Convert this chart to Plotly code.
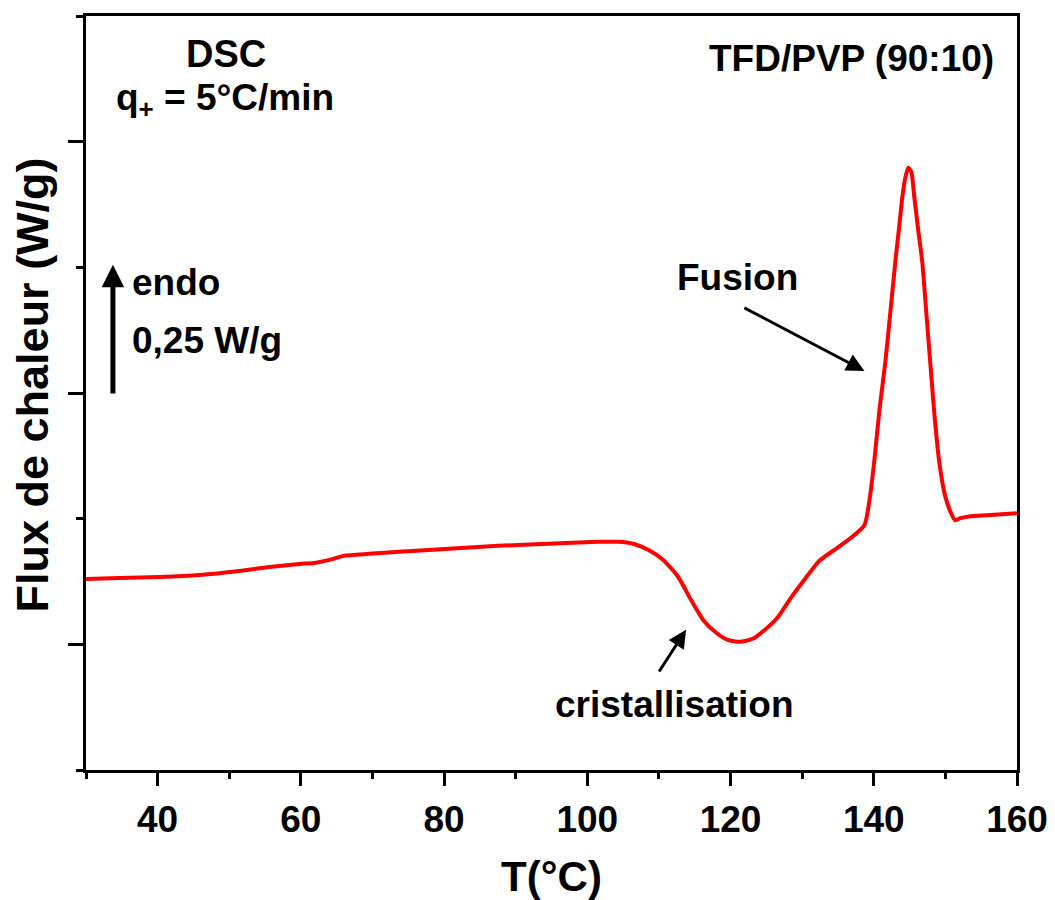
import plotly.graph_objects as go

# Data
temperature = [30.0, 34.7, 40.3, 45.9, 51.4, 55.6, 59.8, 61.9, 64.0, 66.0, 69.5, 73.7,
               80.7, 87.6, 94.6, 101.5, 104.3, 106.4, 108.5, 110.6, 112.7, 114.5, 116.2,
               118.0, 119.6, 121.3, 123.1, 124.8, 126.6, 128.4, 130.5, 132.4, 134.9, 137.0,
               138.70, 139.40, 140.09, 140.79, 141.62, 142.32, 143.01, 143.57, 143.99,
               144.40, 144.82, 145.24, 145.66, 146.21, 146.77, 147.33, 147.88, 148.44,
               149.14, 149.97, 150.67, 151.36, 152.1, 153.5, 155.8, 157.9, 160.0]
heat_flow = [0.380, 0.382, 0.384, 0.388, 0.396, 0.404, 0.410, 0.412, 0.418, 0.426, 0.430, 0.434,
             0.440, 0.446, 0.450, 0.454, 0.454, 0.450, 0.438, 0.418, 0.384, 0.338, 0.298,
             0.273, 0.259, 0.255, 0.261, 0.279, 0.304, 0.342, 0.382, 0.416, 0.442, 0.464,
             0.487, 0.537, 0.617, 0.716, 0.812, 0.911, 1.011, 1.084, 1.140,
             1.178, 1.198, 1.190, 1.140, 1.074, 1.011, 0.911, 0.812, 0.712,
             0.613, 0.545, 0.515, 0.497, 0.501, 0.505, 0.507, 0.509, 0.511]

x_major_ticks = [40, 60, 80, 100, 120, 140, 160]
x_minor_ticks = [30, 50, 70, 90, 110, 130, 150]
y_major_ticks = [0.25, 0.75, 1.25]
y_minor_ticks = [0.0, 0.5, 1.0, 1.5]

FONT = "Arial, 'Liberation Sans', sans-serif"

fig = go.Figure()
fig.add_trace(go.Scatter(
    x=temperature, y=heat_flow, mode="lines",
    line=dict(color="#ff0000", width=4, shape="spline", smoothing=0.6),
    showlegend=False, hoverinfo="skip"))

def txt(x, y, s, xanchor="center", size=37):
    fig.add_annotation(x=x, y=y, xref="x", yref="y", text=s, showarrow=False,
                       xanchor=xanchor, yanchor="middle",
                       font=dict(family=FONT, size=size, color="black", weight="bold"))

def arrow(x0, y0, x1, y1, width, size):
    fig.add_annotation(x=x1, y=y1, ax=x0, ay=y0, xref="x", yref="y", axref="x", ayref="y",
                       text="", showarrow=True, arrowhead=2, arrowsize=size,
                       arrowwidth=width, arrowcolor="black", standoff=0, startstandoff=0)

txt(49.49, 1.425, "DSC", size=38)
txt(49.35, 1.333, "q<sub>+</sub> = 5°C/min")
txt(136.9, 1.416, "TFD/PVP (90:10)")
txt(36.12, 0.97, "endo", xanchor="left")
txt(36.12, 0.855, "0,25 W/g", xanchor="left")
txt(121.02, 0.98, "Fusion")
txt(112.18, 0.13, "cristallisation")

arrow(33.76, 0.746, 33.76, 1.005, 5, 0.9)
arrow(121.72, 0.921, 138.70, 0.794, 3, 1.2)
arrow(109.89, 0.193, 113.79, 0.279, 3, 1.2)

fig.add_annotation(x=(32 - 86) / 931, y=0.51, xref="paper", yref="paper",
                   text="Flux de chaleur (W/g)", textangle=-90, showarrow=False,
                   xanchor="center", yanchor="middle",
                   font=dict(family=FONT, size=45, color="black", weight="bold"))

# page body has an 8px margin: shrink the figure and margins by 8px to compensate
fig.update_layout(
    width=1047, height=892,
    margin=dict(l=78, r=38, t=8, b=130, autoexpand=False),
    paper_bgcolor="white", plot_bgcolor="white",
    xaxis=dict(range=[30, 160], tickmode="array", tickvals=x_major_ticks,
               automargin=False,
               ticks="outside", ticklen=13, tickwidth=3, tickcolor="black",
               ticklabelstandoff=2,
               showline=True, linewidth=3, linecolor="black", mirror=True,
               showgrid=False, zeroline=False,
               tickfont=dict(family=FONT, size=37, color="black", weight="bold"),
               minor=dict(tickmode="array", tickvals=x_minor_ticks, ticks="outside",
                          ticklen=6, tickwidth=3, tickcolor="black", showgrid=False),
               title=dict(text="T(°C)", standoff=33,
                          font=dict(family=FONT, size=42, color="black", weight="bold"))),
    yaxis=dict(range=[0, 1.5], tickmode="array", tickvals=y_major_ticks,
               automargin=False,
               showticklabels=False,
               ticks="outside", ticklen=15, tickwidth=3, tickcolor="black",
               showline=True, linewidth=3, linecolor="black", mirror=True,
               showgrid=False, zeroline=False,
               minor=dict(tickmode="array", tickvals=y_minor_ticks, ticks="outside",
                          ticklen=7, tickwidth=3, tickcolor="black", showgrid=False)),
)

fig.write_html("out.html")
